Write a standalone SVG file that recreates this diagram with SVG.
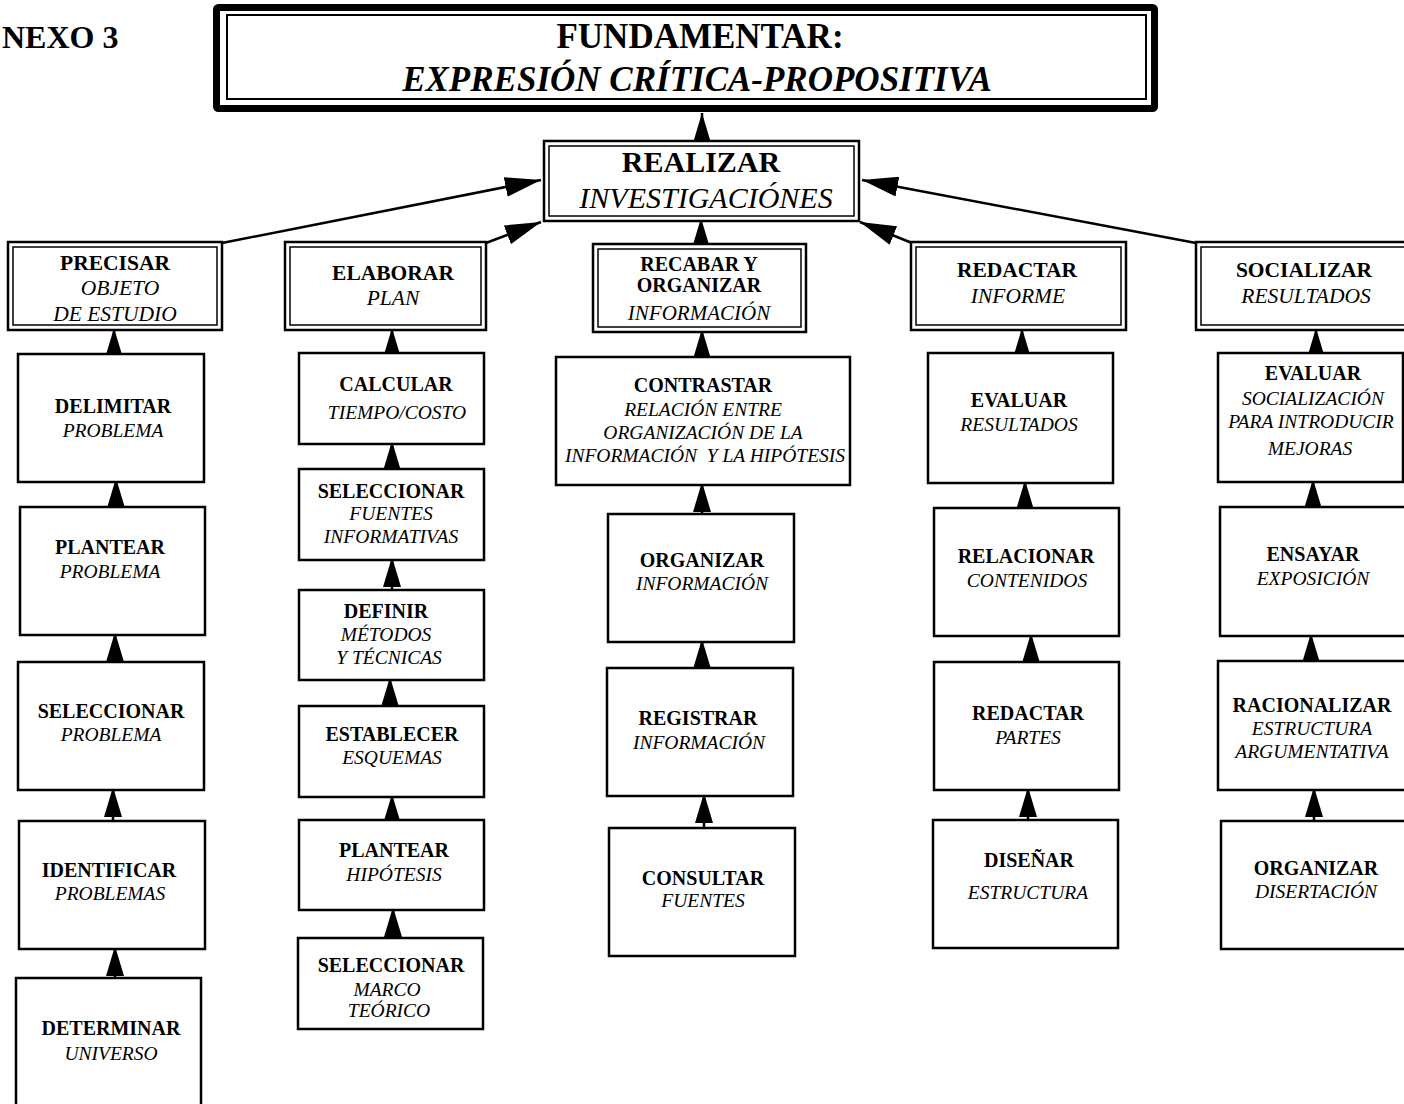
<svg xmlns="http://www.w3.org/2000/svg" width="1404" height="1104" viewBox="0 0 1404 1104">
<style>
text{font-family:"Liberation Serif","Times New Roman",serif;text-anchor:middle;fill:#000}
.b{font-weight:bold;font-size:20px}
.i{font-style:italic;font-size:19.5px}
.hb{font-weight:bold;font-size:21.5px}
.hi{font-style:italic;font-size:21.5px}
.box{fill:#fff;stroke:#000;stroke-width:2.5}
.dbo{fill:#fff;stroke:#000;stroke-width:2.5}
.dbi{fill:none;stroke:#000;stroke-width:1.5}
.con{fill:none;stroke:#000;stroke-width:2.5}
</style>
<defs>
<marker id="ah" viewBox="0 0 30 18" refX="30" refY="9" markerWidth="30" markerHeight="18" orient="auto" markerUnits="userSpaceOnUse">
<path d="M0,0 L30,9 L0,18 z" fill="#000"/>
</marker>
<marker id="ahd" viewBox="0 0 36 20" refX="36" refY="10" markerWidth="36" markerHeight="20" orient="auto" markerUnits="userSpaceOnUse">
<path d="M0,0 L36,10 L0,20 z" fill="#000"/>
</marker>
</defs>
<rect width="1404" height="1104" fill="#fff"/>

<text x="2" y="48" style="text-anchor:start;font-weight:bold;font-size:32px">NEXO 3</text>

<!-- connectors -->
<g id="connectors">
<path class="con" d="M702,141 L702,113" marker-end="url(#ah)"/>
<path class="con" d="M222,243 L541,180" marker-end="url(#ahd)"/>
<path class="con" d="M486,243 L541,222" marker-end="url(#ahd)"/>
<path class="con" d="M701,245 L701,218" marker-end="url(#ah)"/>
<path class="con" d="M912,243 L860,222" marker-end="url(#ahd)"/>
<path class="con" d="M1196,243 L862,180" marker-end="url(#ahd)"/>

<path class="con" d="M114,357 L114,328" marker-end="url(#ah)"/>
<path class="con" d="M116,510 L116,478" marker-end="url(#ah)"/>
<path class="con" d="M115,665 L115,632" marker-end="url(#ah)"/>
<path class="con" d="M113,823 L113,787" marker-end="url(#ah)"/>
<path class="con" d="M115,980 L115,946" marker-end="url(#ah)"/>

<path class="con" d="M392,356 L392,328" marker-end="url(#ah)"/>
<path class="con" d="M392,471 L392,441" marker-end="url(#ah)"/>
<path class="con" d="M392,592 L392,557" marker-end="url(#ah)"/>
<path class="con" d="M390,708 L390,677" marker-end="url(#ah)"/>
<path class="con" d="M392,823 L392,794" marker-end="url(#ah)"/>
<path class="con" d="M393,941 L393,907" marker-end="url(#ah)"/>

<path class="con" d="M702,360 L702,329" marker-end="url(#ah)"/>
<path class="con" d="M702,516 L702,482" marker-end="url(#ah)"/>
<path class="con" d="M702,670 L702,639" marker-end="url(#ah)"/>
<path class="con" d="M704,830 L704,793" marker-end="url(#ah)"/>

<path class="con" d="M1022,356 L1022,328" marker-end="url(#ah)"/>
<path class="con" d="M1025,510 L1025,480" marker-end="url(#ah)"/>
<path class="con" d="M1031,664 L1031,633" marker-end="url(#ah)"/>
<path class="con" d="M1028,823 L1028,787" marker-end="url(#ah)"/>

<path class="con" d="M1316,356 L1316,328" marker-end="url(#ah)"/>
<path class="con" d="M1313,510 L1313,479" marker-end="url(#ah)"/>
<path class="con" d="M1311,664 L1311,633" marker-end="url(#ah)"/>
<path class="con" d="M1314,824 L1314,787" marker-end="url(#ah)"/>
</g>

<!-- title -->
<g id="fundamentar">
<rect x="216.5" y="7.5" width="938" height="101" fill="#fff" stroke="#000" stroke-width="7" rx="2"/>
<rect x="227" y="15" width="919" height="84" fill="none" stroke="#000" stroke-width="2"/>
<text x="700" y="48" style="font-weight:bold;font-size:35px">FUNDAMENTAR:</text>
<text x="697" y="91" style="font-weight:bold;font-style:italic;font-size:35px">EXPRESIÓN CRÍTICA-PROPOSITIVA</text>
</g>

<g id="realizar">
<rect class="dbo" x="544" y="141" width="315" height="80"/>
<rect class="dbi" x="549" y="146" width="305" height="70"/>
<text x="701" y="172" style="font-weight:bold;font-size:30px">REALIZAR</text>
<text x="706" y="208" style="font-style:italic;font-size:30px">INVESTIGACIÓNES</text>
</g>

<!-- headers -->
<g id="precisar">
<rect class="dbo" x="8" y="242" width="214" height="88"/>
<rect class="dbi" x="13" y="247" width="204" height="78"/>
<text class="hb" x="115" y="270">PRECISAR</text>
<text class="hi" x="120" y="295">OBJETO</text>
<text class="hi" x="115" y="321">DE ESTUDIO</text>
</g>
<g id="elaborar">
<rect class="dbo" x="285" y="242" width="201" height="88"/>
<rect class="dbi" x="290" y="247" width="191" height="78"/>
<text class="hb" x="393" y="280">ELABORAR</text>
<text class="hi" x="393" y="305">PLAN</text>
</g>
<g id="recabar">
<rect class="dbo" x="593" y="244" width="213" height="88"/>
<rect class="dbi" x="598" y="249" width="203" height="78"/>
<text x="699" y="271" style="font-weight:bold;font-size:20px">RECABAR Y</text>
<text x="699" y="292" style="font-weight:bold;font-size:20px">ORGANIZAR</text>
<text x="699" y="320" style="font-style:italic;font-size:21px">INFORMACIÓN</text>
</g>
<g id="redactar">
<rect class="dbo" x="911" y="242" width="215" height="88"/>
<rect class="dbi" x="916" y="247" width="205" height="78"/>
<text class="hb" x="1017" y="277">REDACTAR</text>
<text class="hi" x="1018" y="303">INFORME</text>
</g>
<g id="socializar">
<rect class="dbo" x="1196" y="242" width="220" height="88"/>
<rect class="dbi" x="1201" y="247" width="210" height="78"/>
<text class="hb" x="1304" y="277">SOCIALIZAR</text>
<text class="hi" x="1306" y="303">RESULTADOS</text>
</g>

<!-- column 1 -->
<g id="delimitar">
<rect class="box" x="18" y="354" width="186" height="128"/>
<text class="b" x="113" y="413">DELIMITAR</text>
<text class="i" x="113" y="437">PROBLEMA</text>
</g>
<g id="plantear-problema">
<rect class="box" x="20" y="507" width="185" height="128"/>
<text class="b" x="110" y="554">PLANTEAR</text>
<text class="i" x="110" y="578">PROBLEMA</text>
</g>
<g id="seleccionar-problema">
<rect class="box" x="18" y="662" width="186" height="128"/>
<text class="b" x="111" y="718">SELECCIONAR</text>
<text class="i" x="111" y="741">PROBLEMA</text>
</g>
<g id="identificar">
<rect class="box" x="19" y="821" width="186" height="128"/>
<text class="b" x="109" y="877">IDENTIFICAR</text>
<text class="i" x="110" y="900">PROBLEMAS</text>
</g>
<g id="determinar">
<rect class="box" x="16" y="978" width="185" height="140"/>
<text class="b" x="111" y="1035">DETERMINAR</text>
<text class="i" x="111" y="1060">UNIVERSO</text>
</g>

<!-- column 2 -->
<g id="calcular">
<rect class="box" x="299" y="353" width="185" height="91"/>
<text class="b" x="396" y="391">CALCULAR</text>
<text class="i" x="397" y="419">TIEMPO/COSTO</text>
</g>
<g id="seleccionar-fuentes">
<rect class="box" x="299" y="469" width="185" height="91"/>
<text class="b" x="391" y="498">SELECCIONAR</text>
<text class="i" x="391" y="520">FUENTES</text>
<text class="i" x="391" y="543">INFORMATIVAS</text>
</g>
<g id="definir">
<rect class="box" x="299" y="590" width="185" height="90"/>
<text class="b" x="386" y="618">DEFINIR</text>
<text class="i" x="386" y="641">MÉTODOS</text>
<text class="i" x="389" y="664">Y TÉCNICAS</text>
</g>
<g id="establecer">
<rect class="box" x="299" y="706" width="185" height="91"/>
<text class="b" x="392" y="741">ESTABLECER</text>
<text class="i" x="392" y="764">ESQUEMAS</text>
</g>
<g id="plantear-hipotesis">
<rect class="box" x="299" y="820" width="185" height="90"/>
<text class="b" x="394" y="857">PLANTEAR</text>
<text class="i" x="394" y="881">HIPÓTESIS</text>
</g>
<g id="seleccionar-marco">
<rect class="box" x="298" y="938" width="185" height="91"/>
<text class="b" x="391" y="972">SELECCIONAR</text>
<text class="i" x="387" y="996">MARCO</text>
<text class="i" x="389" y="1017">TEÓRICO</text>
</g>

<!-- column 3 -->
<g id="contrastar">
<rect class="box" x="556" y="357" width="294" height="128"/>
<text class="b" x="703" y="392">CONTRASTAR</text>
<text class="i" x="703" y="416">RELACIÓN ENTRE</text>
<text class="i" x="703" y="439">ORGANIZACIÓN DE LA</text>
<text class="i" x="705" y="462" xml:space="preserve">INFORMACIÓN  Y LA HIPÓTESIS</text>
</g>
<g id="organizar-informacion">
<rect class="box" x="608" y="514" width="186" height="128"/>
<text class="b" x="702" y="567">ORGANIZAR</text>
<text class="i" x="702" y="590">INFORMACIÓN</text>
</g>
<g id="registrar">
<rect class="box" x="607" y="668" width="186" height="128"/>
<text class="b" x="698" y="725">REGISTRAR</text>
<text class="i" x="699" y="749">INFORMACIÓN</text>
</g>
<g id="consultar">
<rect class="box" x="609" y="828" width="186" height="128"/>
<text class="b" x="703" y="885">CONSULTAR</text>
<text class="i" x="703" y="907">FUENTES</text>
</g>

<!-- column 4 -->
<g id="evaluar-resultados">
<rect class="box" x="928" y="353" width="185" height="130"/>
<text class="b" x="1019" y="407">EVALUAR</text>
<text class="i" x="1019" y="431">RESULTADOS</text>
</g>
<g id="relacionar">
<rect class="box" x="934" y="508" width="185" height="128"/>
<text class="b" x="1026" y="563">RELACIONAR</text>
<text class="i" x="1027" y="587">CONTENIDOS</text>
</g>
<g id="redactar-partes">
<rect class="box" x="934" y="662" width="185" height="128"/>
<text class="b" x="1028" y="720">REDACTAR</text>
<text class="i" x="1028" y="744">PARTES</text>
</g>
<g id="disenar">
<rect class="box" x="933" y="820" width="185" height="128"/>
<text class="b" x="1029" y="867">DISEÑAR</text>
<text class="i" x="1028" y="899">ESTRUCTURA</text>
</g>

<!-- column 5 -->
<g id="evaluar-socializacion">
<rect class="box" x="1218" y="353" width="185" height="129"/>
<text class="b" x="1313" y="380">EVALUAR</text>
<text class="i" x="1313" y="405">SOCIALIZACIÓN</text>
<text class="i" x="1311" y="428">PARA INTRODUCIR</text>
<text class="i" x="1310" y="455">MEJORAS</text>
</g>
<g id="ensayar">
<rect class="box" x="1220" y="507" width="190" height="129"/>
<text class="b" x="1313" y="561">ENSAYAR</text>
<text class="i" x="1313" y="585">EXPOSICIÓN</text>
</g>
<g id="racionalizar">
<rect class="box" x="1218" y="661" width="190" height="129"/>
<text class="b" x="1312" y="712">RACIONALIZAR</text>
<text class="i" x="1312" y="735">ESTRUCTURA</text>
<text class="i" x="1312" y="758">ARGUMENTATIVA</text>
</g>
<g id="organizar-disertacion">
<rect class="box" x="1221" y="821" width="190" height="128"/>
<text class="b" x="1316" y="875">ORGANIZAR</text>
<text class="i" x="1316" y="898">DISERTACIÓN</text>
</g>
</svg>
